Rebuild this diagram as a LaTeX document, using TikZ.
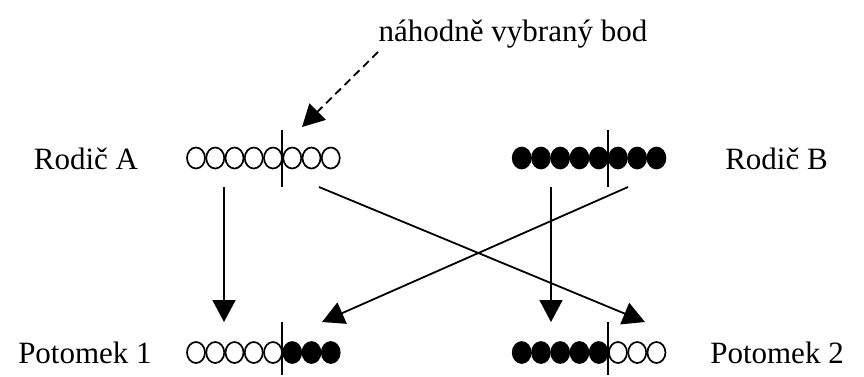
\documentclass[tikz,border=0pt]{standalone}
\usepackage{fontspec}
\setmainfont{Liberation Serif}
\usetikzlibrary{shapes.geometric,arrows.meta}
\begin{document}
\begin{tikzpicture}[x=1pt,y={(0pt,-1pt)},
  geneopen/.style={ellipse,draw,line width=1.7pt,minimum width=18pt,minimum height=21pt,inner sep=0pt},
  genefull/.style={geneopen,fill=black},
  cutline/.style={line width=1.8pt},
  link/.style={line width=1.8pt,-{Triangle[length=22pt,width=23pt]}},
  hint/.style={link,dash pattern=on 8pt off 5pt},
  lbl/.style={anchor=base,inner sep=0pt,font=\fontsize{31}{37}\selectfont}]
\useasboundingbox (0,0) rectangle (864,376);

% labels
\node[lbl] (title) at (513,41) {náhodně vybraný bod};
\node[lbl] (parA) at (86,169) {Rodič A};
\node[lbl] (parB) at (776.5,169) {Rodič B};
\node[lbl] (kid1) at (85,363) {Potomek 1};
\node[lbl] (kid2) at (777,363) {Potomek 2};

% parent chromosomes
\foreach \i in {1,...,8} {
  \node[geneopen] (a\i) at ({196+19.25*(\i-1)},158) {};
  \node[genefull] (b\i) at ({521.7+19.25*(\i-1)},158) {};
}
% offspring chromosomes
\foreach \i in {1,...,5} {
  \node[geneopen] (p\i) at ({196+19.25*(\i-1)},352.5) {};
  \node[genefull] (q\i) at ({521.7+19.25*(\i-1)},352.5) {};
}
\foreach \i in {6,...,8} {
  \node[genefull] (p\i) at ({196+19.25*(\i-1)},352.5) {};
  \node[geneopen] (q\i) at ({521.7+19.25*(\i-1)},352.5) {};
}

% crossover cut lines
\coordinate (cutAt) at (282,130);  \coordinate (cutAb) at (282,187);
\coordinate (cutBt) at (608,130);  \coordinate (cutBb) at (608,187);
\coordinate (cutPt) at (282,322);  \coordinate (cutPb) at (282,375);
\coordinate (cutQt) at (608,322);  \coordinate (cutQb) at (608,375);
\draw[cutline] (cutAt) -- (cutAb);
\draw[cutline] (cutBt) -- (cutBb);
\draw[cutline] (cutPt) -- (cutPb);
\draw[cutline] (cutQt) -- (cutQb);

% arrow ends
\coordinate (aLeft) at (224,187);
\coordinate (aRight) at (319,187);
\coordinate (bLeft) at (551,187);
\coordinate (bRight) at (628,187);
\coordinate (pLeft) at (224,322);
\coordinate (pRight) at (322,322);
\coordinate (qLeft) at (551,322);
\coordinate (qRight) at (645,322);
\coordinate (hintStart) at (378,52);
\coordinate (hintEnd) at (302,127);

% gene inheritance
\draw[link] (aLeft) -- (pLeft);
\draw[link] (aRight) -- (qRight);
\draw[link] (bRight) -- (pRight);
\draw[link] (bLeft) -- (qLeft);

% pointer to the crossover point
\draw[hint] (hintStart) -- (hintEnd);
\end{tikzpicture}
\end{document}
